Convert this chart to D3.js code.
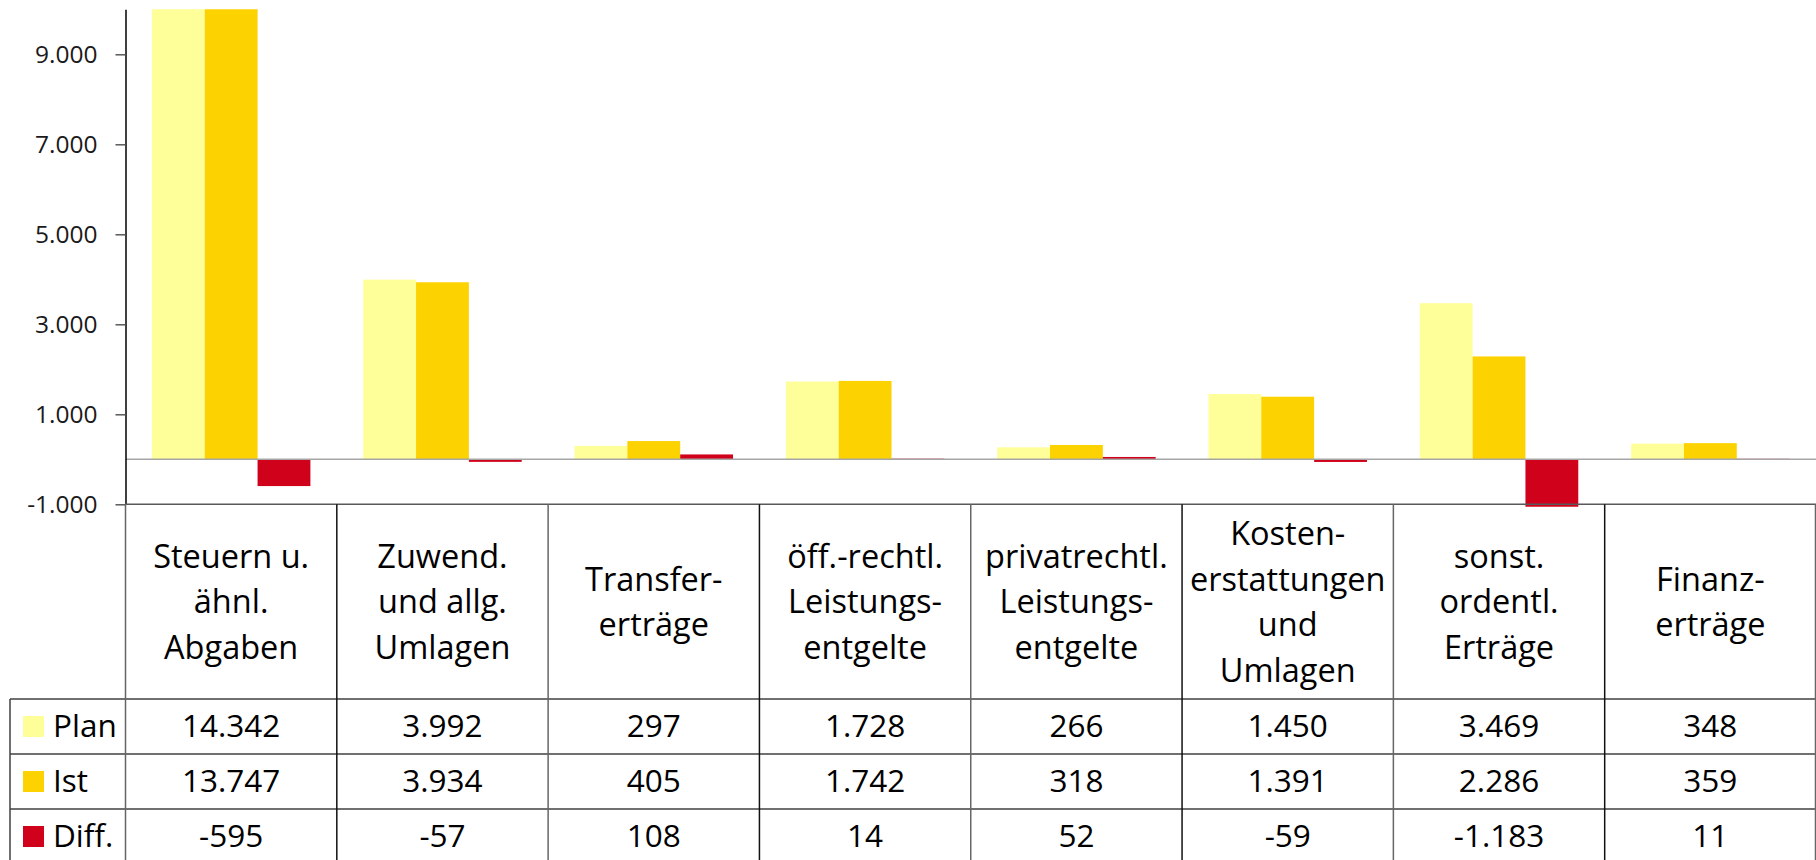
<!DOCTYPE html>
<html>
<head>
<meta charset="utf-8">
<script src="https://cdn.jsdelivr.net/npm/d3@7"></script>
<style>
  body { margin: 0; background: #fff; }
  svg { display: block; font-family: "Open Sans", "Noto Sans", sans-serif; }
</style>
</head>
<body>
<svg id="chart" width="1816" height="860"></svg>
<script>
let categories = [
    ["Steuern u.", "ähnl.", "Abgaben"],
    ["Zuwend.", "und allg.", "Umlagen"],
    ["Transfer-", "erträge"],
    ["öff.-rechtl.", "Leistungs-", "entgelte"],
    ["privatrechtl.", "Leistungs-", "entgelte"],
    ["Kosten-", "erstattungen", "und", "Umlagen"],
    ["sonst.", "ordentl.", "Erträge"],
    ["Finanz-", "erträge"]
]
let seriesNames = ["Plan", "Ist", "Diff."]
let plan = [14342, 3992, 297, 1728, 266, 1450, 3469, 348]
let ist = [13747, 3934, 405, 1742, 318, 1391, 2286, 359]
let diff = [-595, -57, 108, 14, 52, -59, -1183, 11]
let yTicks = [-1000, 1000, 3000, 5000, 7000, 9000]
let colors = ["#ffff99", "#fcd200", "#d0021b"]

let locale = d3.formatLocale({decimal: ",", thousands: ".", grouping: [3], currency: ["", " €"], minus: "-"})
let fmt = locale.format(",d")

let series = [plan, ist, diff]

let svg = d3.select('#chart')
let width = 1816
let axisX = 125.5
let tableLeft = 10
let plotTop = 9.3
let plotBottom = 504.3
let headerBottom = 699
let rowH = 55

let x = d3.scaleBand()
    .domain(d3.range(categories.length))
    .range([axisX, width])

let xInner = d3.scaleBand()
    .domain(d3.range(series.length))
    .range([x.bandwidth() * 0.125, x.bandwidth() * 0.875])

let y = d3.scaleLinear()
    .domain([-1000, 10000])
    .range([plotBottom, plotTop])

svg.append('defs').append('clipPath')
    .attr('id', 'plot-clip')
    .append('rect')
    .attr('x', axisX)
    .attr('y', plotTop)
    .attr('width', width - axisX)
    .attr('height', plotBottom - plotTop + 2.5)

// bars
let groups = svg.append('g')
    .attr('clip-path', 'url(#plot-clip)')
    .selectAll('g.cat')
    .data(categories.map((c, i) => series.map((s, j) => ({cat: i, s: j, value: s[i]}))))
    .enter()
    .append('g')
    .attr('class', 'cat')
    .attr('transform', (d, i) => `translate(${x(i)},0)`)

groups.selectAll('rect')
    .data(d => d)
    .enter()
    .append('rect')
    .attr('x', d => xInner(d.s))
    .attr('width', xInner.bandwidth())
    .attr('y', d => Math.min(y(d.value), y(0)))
    .attr('height', d => Math.abs(y(d.value) - y(0)))
    .attr('fill', d => colors[d.s])

// zero line
svg.append('line')
    .attr('x1', axisX).attr('x2', width)
    .attr('y1', y(0)).attr('y2', y(0))
    .attr('stroke', '#a6a6a6')
    .attr('stroke-width', 1.5)

// y axis
let yAxis = svg.append('g')
    .attr('transform', `translate(${axisX},0)`)
    .call(d3.axisLeft(y).tickValues(yTicks).tickFormat(fmt).tickSize(10).tickSizeOuter(0).tickPadding(18))

yAxis.select('.domain').attr('stroke', '#000').attr('stroke-width', 1.5)
yAxis.selectAll('.tick line').attr('stroke', '#595959').attr('stroke-width', 1.5)
yAxis.selectAll('.tick text')
    .attr('font-size', 24.5)
    .attr('font-family', '"Open Sans", sans-serif')
    .attr('fill', '#1a1a1a')

// table grid
let lineColor = '#404040'
let tableBottom = headerBottom + rowH * 3

svg.append('line')
    .attr('x1', axisX).attr('x2', width)
    .attr('y1', plotBottom).attr('y2', plotBottom)
    .attr('stroke', '#595959').attr('stroke-width', 1.5)

d3.range(3).forEach(r => {
    svg.append('line')
        .attr('x1', tableLeft).attr('x2', width)
        .attr('y1', headerBottom + r * rowH).attr('y2', headerBottom + r * rowH)
        .attr('stroke', lineColor).attr('stroke-width', 1.5)
})

svg.append('line')
    .attr('x1', tableLeft).attr('x2', tableLeft)
    .attr('y1', headerBottom).attr('y2', tableBottom)
    .attr('stroke', lineColor).attr('stroke-width', 1.5)

svg.selectAll('line.vgrid')
    .data(d3.range(categories.length + 1))
    .enter()
    .append('line')
    .attr('class', 'vgrid')
    .attr('x1', i => i < categories.length ? x(i) : width - 0.5)
    .attr('x2', i => i < categories.length ? x(i) : width - 0.5)
    .attr('y1', plotBottom).attr('y2', tableBottom)
    .attr('stroke', (i) => i % 2 == 0 ? '#666' : '#111')
    .attr('stroke-width', 1.5)

// category labels
let headFont = 32.5
let fontSize = 31.5
let lineH = 45.5
let headerMid = (plotBottom + headerBottom) / 2

categories.forEach((lines, i) => {
    let t = svg.append('text')
        .attr('text-anchor', 'middle')
        .attr('font-size', headFont)
        .attr('fill', '#000')
    lines.forEach((ln, k) => {
        t.append('tspan')
            .attr('x', x(i) + x.bandwidth() / 2)
            .attr('y', headerMid + (k - (lines.length - 1) / 2) * lineH + headFont * 0.36)
            .text(ln)
    })
})

// legend cells + values
series.forEach((s, j) => {
    let top = headerBottom + j * rowH
    let mid = top + rowH / 2
    svg.append('rect')
        .attr('x', 23).attr('y', mid - 10.5)
        .attr('width', 21).attr('height', 21)
        .attr('fill', colors[j])
    svg.append('text')
        .attr('x', 53)
        .attr('y', mid + fontSize * 0.34)
        .attr('font-size', fontSize)
        .attr('fill', '#000')
        .text(seriesNames[j])
    svg.selectAll(null)
        .data(s)
        .enter()
        .append('text')
        .attr('x', (d, i) => x(i) + x.bandwidth() / 2)
        .attr('y', mid + fontSize * 0.34)
        .attr('text-anchor', 'middle')
        .attr('font-size', fontSize)
        .attr('fill', '#000')
        .text(d => fmt(d))
})
</script>
</body>
</html>
